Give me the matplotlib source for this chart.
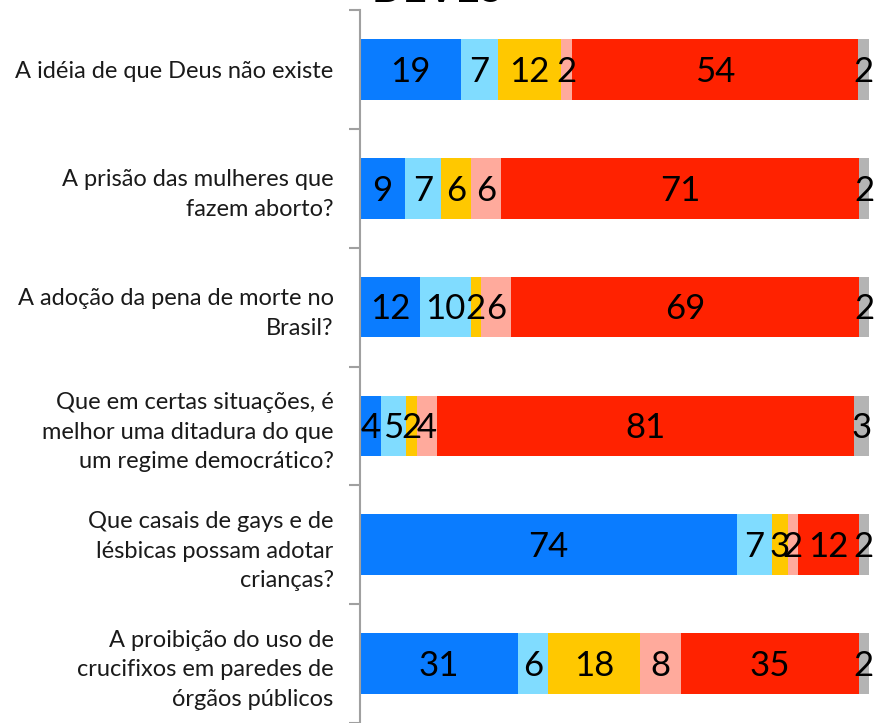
import numpy as np
import matplotlib
matplotlib.use('Agg')
import matplotlib.pyplot as plt

plt.rcParams['font.family'] = ['Lato', 'DejaVu Sans']

questions = [
    'A idéia de que Deus não existe',
    'A prisão das mulheres que\nfazem aborto?',
    'A adoção da pena de morte no\nBrasil?',
    'Que em certas situações, é\nmelhor uma ditadura do que\num regime democrático?',
    'Que casais de gays e de\nlésbicas possam adotar\ncrianças?',
    'A proibição do uso de\ncrucifixos em paredes de\nórgãos públicos',
]

# answers per question, in stacking order
totally_agree = [19, 9, 12, 4, 74, 31]
partly_agree = [7, 7, 10, 5, 7, 6]
neutral = [12, 6, 2, 2, 3, 18]
partly_disagree = [2, 6, 6, 4, 2, 8]
totally_disagree = [54, 71, 69, 81, 12, 35]
no_answer = [2, 2, 2, 3, 2, 2]

series = [totally_agree, partly_agree, neutral, partly_disagree, totally_disagree, no_answer]
colors = ['#0A7CFF', '#80DCFF', '#FFC800', '#FFAA9C', '#FF2200', '#B4B4B4']

data = np.array(series, dtype=float)
shares = data / data.sum(axis=0) * 100  # bars are drawn as 100% stacked

fig = plt.figure(figsize=(8.77, 7.23), dpi=100)
ax = fig.add_axes([360 / 877, 0.0, 509 / 877, 713 / 723])

y = np.arange(len(questions))
left = np.zeros(len(questions))
for vals, share, col in zip(series, shares, colors):
    ax.barh(y, share, left=left, height=0.51, color=col, edgecolor='none')
    for yi, (v, s, l) in enumerate(zip(vals, share, left)):
        ax.text(l + s / 2, yi + 0.02, str(v), ha='center', va='center',
                fontsize=25, color='black')
    left += share

ax.set_xlim(0, 100)
ax.set_ylim(len(questions) - 0.5, -0.5)

# tick marks on category boundaries, labels on category centres
ax.set_yticks(np.arange(len(questions) + 1) - 0.5)
ax.set_yticklabels([])
ax.tick_params(axis='y', which='major', length=8, width=1.5, color='#a0a0a0')
ax.set_yticks(y, minor=True)
ax.set_yticklabels(questions, minor=True, fontsize=17, color='#1a1a1a',
                   linespacing=1.5)
ax.tick_params(axis='y', which='minor', length=0, pad=19)
ax.set_xticks([])

for side in ['top', 'right', 'bottom']:
    ax.spines[side].set_visible(False)
ax.spines['left'].set_color('#a0a0a0')
ax.spines['left'].set_linewidth(1.5)

fig.text(372 / 877, 0.997, 'DEVES', fontsize=30, fontweight='bold',
         ha='left', va='baseline', color='black')

fig.savefig('out.png', dpi=100)
